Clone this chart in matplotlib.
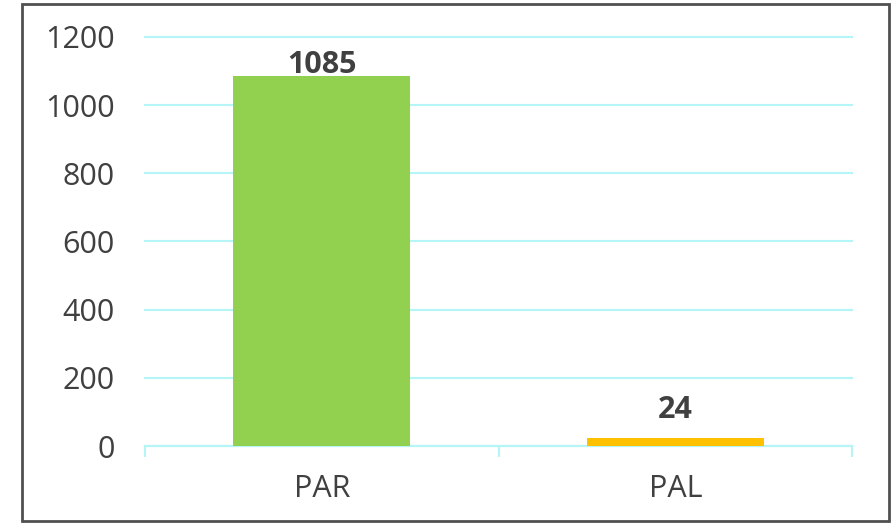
import matplotlib.pyplot as plt
from matplotlib.patches import Rectangle

categories = ["PAR", "PAL"]
values = [1085, 24]
colors = ["#92D050", "#FFC000"]

plt.rcParams['font.family'] = ['Open Sans', 'DejaVu Sans']

fig = plt.figure(figsize=(8.94, 5.23), dpi=100)
ax = fig.add_axes([145/894, 77/523, 707/894, 409/523])

x = range(len(categories))
bars = ax.bar(x, values, width=0.5, color=colors, zorder=3)

# labels sit a bit higher over the short bar, like in the original
label_gap = [-3, 9]
for xi, v, g in zip(x, values, label_gap):
    ax.annotate(str(v), (xi, v), xytext=(0, g), textcoords="offset points",
                ha="center", va="bottom", fontsize=22,
                fontweight="bold", color="#404040")

ax.set_xlim(-0.5, 1.5)
ax.set_ylim(0, 1200)
ax.set_yticks(range(0, 1201, 200))
ax.tick_params(axis="y", length=0, labelsize=22, labelcolor="#404040", pad=22)
ax.yaxis.grid(True, color="#B5F5F8", linewidth=1.5, zorder=0)
for gl in ax.get_ygridlines():
    gl.set_clip_on(False)

ax.set_xticks([-0.5, 0.5, 1.5])
ax.set_xticklabels([])
ax.set_xticks(list(x), minor=True)
ax.set_xticklabels(categories, minor=True)
ax.tick_params(axis="x", which="major", length=8, color="#B5F5F8", width=1.5)
ax.tick_params(axis="x", which="minor", length=0, labelsize=22,
               labelcolor="#404040", pad=20)

for s in ["top", "right", "left"]:
    ax.spines[s].set_visible(False)
ax.spines["bottom"].set_color("#B5F5F8")
ax.spines["bottom"].set_linewidth(1.5)

fig.patches.append(Rectangle((22/894, 2/523), 867/894, 517/523,
                             transform=fig.transFigure, fill=False,
                             edgecolor="#505050", linewidth=2))

fig.savefig("out.png", dpi=100)
